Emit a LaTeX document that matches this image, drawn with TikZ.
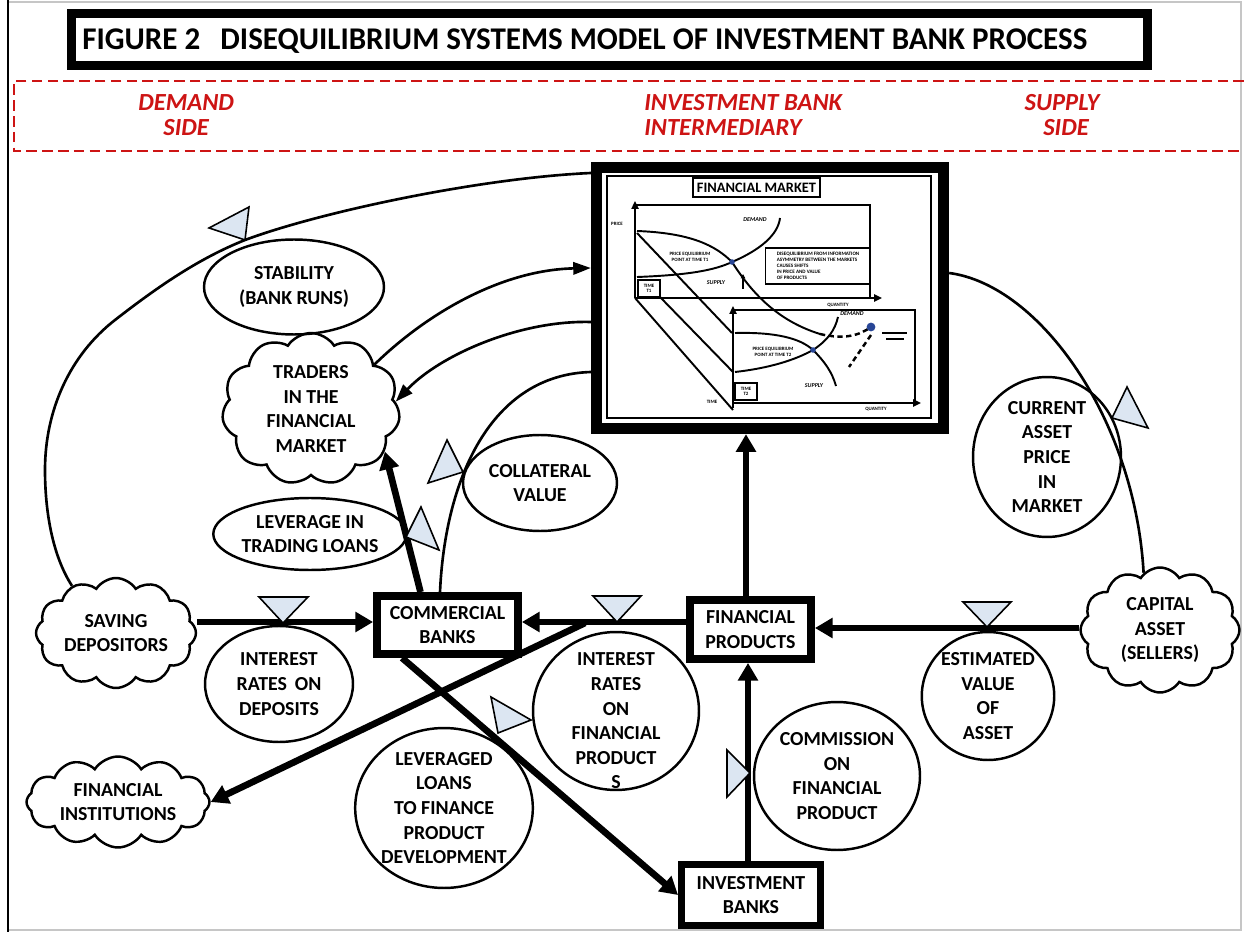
\documentclass[tikz,border=0pt]{standalone}
\usepackage{fontspec}
\setmainfont{Carlito}
\usetikzlibrary{shapes.geometric,shapes.symbols,arrows.meta}
\definecolor{valve}{RGB}{220,230,242}
\definecolor{redlab}{RGB}{205,20,20}
\definecolor{dotblue}{RGB}{40,70,150}
\begin{document}
\begin{tikzpicture}[x=0.02cm,y=-0.02cm,
  lbl/.style={font=\fontsize{11.3}{14}\selectfont\bfseries, align=center},
  ell/.style={ellipse, draw, line width=1.4pt, inner sep=0pt, lbl},
  cld/.style={cloud, draw, line width=1.4pt, cloud puffs=12, cloud puff arc=115, cloud ignores aspect, inner sep=0pt, lbl},
  boxnode/.style={draw, line width=4.5pt, inner sep=0pt, lbl},
  flowarrow/.style={line width=3.8pt, -{Triangle[length=10pt,width=11pt]}},
  link/.style={line width=1.5pt},
  linkarrow/.style={line width=1.5pt, -{Triangle[length=10pt,width=7pt]}},
  valvemark/.style={fill=valve, draw, line width=0.9pt, line join=miter},
  redtxt/.style={text=redlab, font=\fontsize{14}{16}\selectfont\bfseries\itshape, inner sep=0pt},
  tiny/.style={font=\fontsize{2.8}{3.2}\selectfont\bfseries, inner sep=0pt, align=center},
  chartline/.style={line width=1.1pt},
  axisarrow/.style={line width=1.1pt, -{Triangle[length=4.5pt,width=4pt]}},
]
\useasboundingbox (0,0) rectangle (1244,932);
% outer frame
\draw[gray!45, line width=0.6pt] (8,2) -- (1241,2) -- (1241,930) -- (8,930);
\draw[line width=1.3pt] (8,0) -- (8,932);

% title
\node (titlebox) [draw, line width=5.5pt, minimum width=215.2mm, minimum height=10.4mm, inner sep=0pt] at (609.5,39.5) {};
\node (title) [anchor=west, font=\fontsize{18}{20}\selectfont\bfseries, inner sep=0pt] at (82,41) {\resizebox{201mm}{\height}{FIGURE 2\hspace{0.65em}DISEQUILIBRIUM SYSTEMS MODEL OF INVESTMENT BANK PROCESS}};

% red dashed band
\draw[redlab, line width=1.7pt, dash pattern=on 6pt off 3pt] (1244,81) -- (14,81) -- (14,151) -- (1244,151);
\node (dem) [redtxt, anchor=west] at (138,103) {DEMAND};
\node (dside) [redtxt, anchor=west] at (163,128) {SIDE};
\node (ibank) [redtxt, anchor=west] at (644,103) {INVESTMENT BANK};
\node (inter) [redtxt, anchor=west] at (644,128) {INTERMEDIARY};
\node (sup) [redtxt] at (1062,103) {SUPPLY};
\node (sside) [redtxt] at (1066,128) {SIDE};

% financial market box
\node (fm) [draw, line width=6.5pt, minimum width=69.4mm, minimum height=52.2mm, inner sep=0pt] at (770,298) {};
\draw[line width=0.9pt] (607,176) rectangle (931,418);
\node (fmlabel) [draw, line width=0.7pt, minimum width=25.4mm, minimum height=3.8mm, inner sep=0pt, font=\fontsize{8.2}{9}\selectfont\bfseries] at (756.5,187.5) {FINANCIAL MARKET};
% upper panel
\draw[axisarrow] (635,298) -- (635,201);
\draw[axisarrow] (635,298) -- (882,298);
\draw[chartline] (635,205) -- (870,205) -- (870,298);
\node (uprice) [tiny] at (617,224) {PRICE};
\draw[chartline] (637,231) .. controls (690,233) and (715,245) .. (732,262) .. controls (750,290) and (775,320) .. (820,334);
\draw[line width=1.4pt, dash pattern=on 3pt off 2pt] (820,334) .. controls (845,340) and (860,335) .. (871,327);
\draw[chartline] (637,277) .. controls (690,275) and (715,270) .. (732,262) .. controls (760,250) and (778,235) .. (780,218);
\node (udem) [tiny, font=\fontsize{3.4}{4}\selectfont\bfseries\itshape] at (755,220) {DEMAND};
\node (usup) [tiny, font=\fontsize{3.4}{4}\selectfont\bfseries\itshape] at (716,283) {SUPPLY};
\node (ueq) [tiny] at (690,257) {PRICE EQUILIBRIUM\\POINT AT TIME T1};
\node (ut1) [draw, line width=0.6pt, minimum width=4.4mm, minimum height=3.4mm, tiny] at (649,288.5) {TIME\\T1};
\draw[line width=0.8pt, -{Triangle[length=2.5pt,width=2.5pt]}] (743,289) -- (743,274);
\node (legend) [draw, line width=0.7pt, minimum width=21mm, minimum height=7.2mm, inner sep=1pt, anchor=west, font=\fontsize{2.9}{3.5}\selectfont\bfseries, align=left] at (765,266) {DISEQUILIBRIUM FROM INFORMATION\\ASYMMETRY BETWEEN THE MARKETS\\CAUSES SHIFTS\\IN PRICE AND VALUE\\OF PRODUCTS};
\node (uqty) [tiny] at (838,305) {QUANTITY};
% perspective lines
\draw[chartline] (637,233) -- (732,333);
\draw[chartline] (660,297) -- (733,372);
\draw[chartline] (635,298) -- (733,410);
% lower panel
\draw[axisarrow] (733,408) -- (733,306);
\draw[axisarrow] (733,403) -- (921,403);
\draw[chartline] (733,310) -- (915,310) -- (915,403);
\draw[chartline] (735,333) .. controls (775,332) and (800,338) .. (813,350) .. controls (825,362) and (832,372) .. (836,386);
\draw[chartline] (735,372) .. controls (770,368) and (795,360) .. (813,350) .. controls (828,340) and (835,330) .. (838,317);
\node (ldem) [tiny, font=\fontsize{3.4}{4}\selectfont\bfseries\itshape] at (852,314) {DEMAND};
\node (lsup) [tiny, font=\fontsize{3.4}{4}\selectfont\bfseries\itshape] at (814,386) {SUPPLY};
\node (leq) [tiny] at (773,352) {PRICE EQUILIBRIUM\\POINT AT TIME T2};
\node (lt2) [draw, line width=0.6pt, minimum width=4.4mm, minimum height=3.4mm, tiny] at (746,391.5) {TIME\\T2};
\node (ltime) [tiny] at (712,402) {TIME};
\node (lqty) [tiny] at (876,409) {QUANTITY};
\draw[line width=1.4pt, dash pattern=on 3pt off 2pt] (871,335) -- (849,367);
\draw[line width=1.2pt] (882,333) -- (907,333) (886,339) -- (904,339);
\fill[dotblue] (732,262) circle (2.8);
\fill[dotblue] (813,350) circle (2.8);
\fill[dotblue] (871,327) circle (4.4);

% nodes
\node (stab) [ell, minimum width=36mm, minimum height=19mm] at (294,287) {STABILITY\\(BANK RUNS)};
\node (traders) [cld, cloud puffs=11, minimum width=35.6mm, minimum height=30.4mm] at (311,409) {TRADERS\\IN THE\\FINANCIAL\\MARKET};
\node (lev) [ell, minimum width=35.2mm, minimum height=14.4mm] at (310,534) {LEVERAGE IN\\TRADING LOANS};
\node (coll) [ell, minimum width=30.8mm, minimum height=19.2mm] at (540,483) {COLLATERAL\\VALUE};
\node (sd) [cld, minimum width=32mm, minimum height=22mm] at (116,633) {SAVING\\DEPOSITORS};
\node (fi) [cld, minimum width=36.6mm, minimum height=18.2mm] at (118,802) {FINANCIAL\\INSTITUTIONS};
\node (cb) [boxnode, minimum width=28.2mm, minimum height=11.6mm] at (447.5,625) {COMMERCIAL\\BANKS};
\node (ird) [ell, minimum width=29.6mm, minimum height=23.2mm] at (279,684) {INTEREST\\RATES\hspace{0.4em}ON\\DEPOSITS};
\node (irfp) [ell, minimum width=33.2mm, minimum height=31.6mm] at (616,711) {};
\node (irfptext) [lbl] at (616,721) {INTEREST\\RATES\\ON\\FINANCIAL\\PRODUCT\\S};
\node (ll) [ell, minimum width=34.8mm, minimum height=32mm] at (444,808) {LEVERAGED\\LOANS\\TO FINANCE\\PRODUCT\\DEVELOPMENT};
\node (fp) [boxnode, minimum width=24.2mm, minimum height=11.8mm] at (750.5,629.5) {FINANCIAL\\PRODUCTS};
\node (ib) [boxnode, line width=4pt, minimum width=27.8mm, minimum height=12.2mm] at (751,895) {INVESTMENT\\BANKS};
\node (com) [ell, minimum width=33.2mm, minimum height=29.6mm] at (837,776) {COMMISSION\\ON\\FINANCIAL\\PRODUCT};
\node (eva) [ell, minimum width=26.4mm, minimum height=25.6mm] at (988,696) {ESTIMATED\\VALUE\\OF\\ASSET};
\node (ca) [cld, minimum width=31.8mm, minimum height=25mm] at (1160,630) {CAPITAL\\ASSET\\(SELLERS)};
\node (cap) [ell, minimum width=29.6mm, minimum height=32mm] at (1047,457) {CURRENT\\ASSET\\PRICE\\IN\\MARKET};

% junction on the product line
\coordinate (jn) at (585,623);

% thin links
\draw[link] (sd.133) .. controls (52,555) and (45,510) .. (45,470) .. controls (45,410) and (70,355) .. (115,320) .. controls (160,285) and (200,258) .. (245,240) .. controls (320,212) and (480,178) .. (fm.west |- 0,173);
\draw[linkarrow] (traders.35) .. controls (425,315) and (500,270) .. (fm.west |- 0,268);
\draw[linkarrow] (fm.west |- 0,322) .. controls (520,320) and (440,355) .. (traders.5);
\draw[link] ([xshift=-1.5mm]cb.north) .. controls (445,480) and (490,375) .. (fm.west |- 0,372);
\draw[link] (fm.east |- 0,273) .. controls (1040,285) and (1135,420) .. (ca.106);

% thick flows
\draw[flowarrow] (sd.east |- 0,622) -- (cb.west |- 0,622);
\draw[flowarrow] (fp.west |- 0,622) -- (cb.east |- 0,622);
\draw[flowarrow] (jn) -- (fi.east);
\draw[flowarrow] ([xshift=5.8mm]cb.south west) -- (ib.west);
\draw[flowarrow] ([xshift=-5.4mm]cb.north) -- (traders.-30);
\draw[flowarrow] (fp.north -| 746,0) -- (fm.south -| 746,0);
\draw[flowarrow] (ib.north -| 748,0) -- (fp.south -| 748,0);
\draw[flowarrow] (ca.west |- 0,628) -- (fp.east |- 0,628);

% valve markers
\draw[valvemark] (249,207) -- (209,228) -- (245,240) -- cycle;
\draw[valvemark] (447,440) -- (428,483) -- (463,472) -- cycle;
\draw[valvemark] (421,507) -- (439,550) -- (406,537) -- cycle;
\draw[valvemark] (259,597) -- (308,597) -- (283,623) -- cycle;
\draw[valvemark] (593,596) -- (641,596) -- (617,622) -- cycle;
\draw[valvemark] (491,697) -- (531,720) -- (498,733) -- cycle;
\draw[valvemark] (727,750) -- (750,773) -- (727,797) -- cycle;
\draw[valvemark] (963,602) -- (1011,602) -- (987,627) -- cycle;
\draw[valvemark] (1127,387) -- (1112,418) -- (1148,428) -- cycle;
\end{tikzpicture}
\end{document}
